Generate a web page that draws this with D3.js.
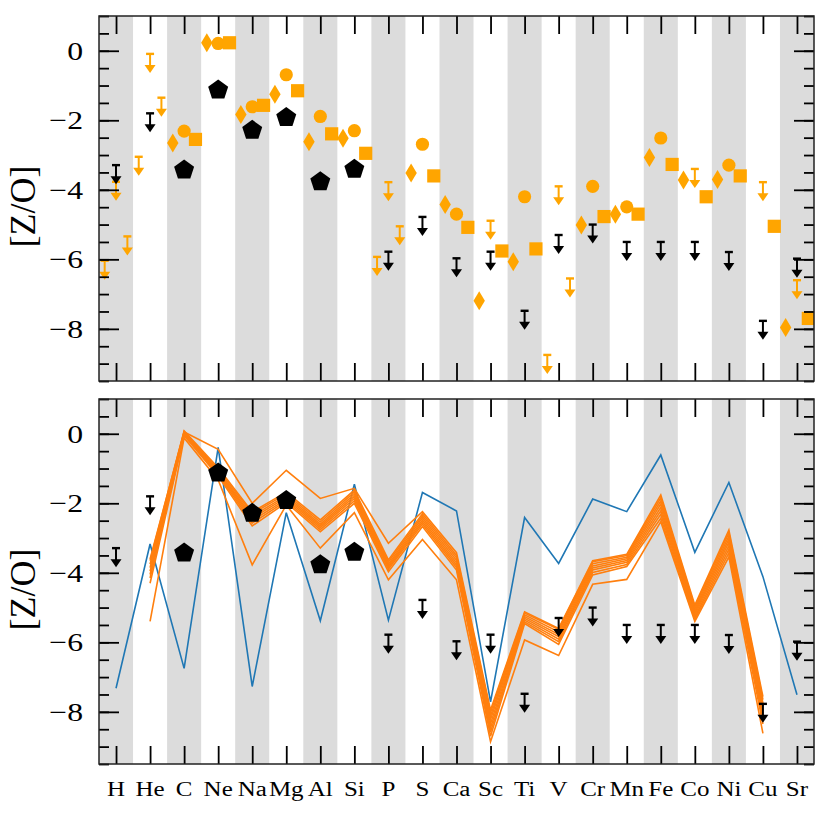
<!DOCTYPE html>
<html>
<head>
<meta charset="utf-8">
<script src="https://cdnjs.cloudflare.com/ajax/libs/d3/7.8.5/d3.min.js"></script>
<style>
  body { margin: 0; background: #fff; }
</style>
</head>
<body>
<div id="chart"></div>
<script>
var elements = ["H","He","C","Ne","Na","Mg","Al","Si","P","S","Ca","Sc","Ti","V","Cr","Mn","Fe","Co","Ni","Cu","Sr"];

// orange observations, three sets side by side (diamond left, circle centre, square right)
var diamondVals = [null, null, -2.65, 0.23, -1.83, -1.25, -2.62, -2.52, null, -3.52, -4.42, -7.19, -6.07, null, -5.01, -4.70, -3.07, -3.72, -3.70, null, -7.96];
var diamondLims = [-6.04, -3.05, null, null, null, null, null, null, -5.93, null, null, null, null, -8.75, null, null, null, null, null, null, null];
var circleVals  = [null, null, -2.31, 0.21, -1.61, -0.69, -1.89, -2.30, null, -2.69, -4.70, null, -4.20, null, -3.90, -4.49, -2.51, null, -3.29, null, null];
var circleLims  = [-3.77, -0.09, null, null, null, null, null, null, -3.78, null, null, -4.89, null, -3.90, null, null, null, -3.40, null, -3.78, -6.60];
var squareVals  = [null, null, -2.55, 0.23, -1.57, -1.15, -2.39, -2.95, null, -3.60, -5.08, -5.76, -5.70, null, -4.77, -4.70, -3.27, -4.20, -3.60, -5.05, -7.70];
var squareLims  = [-5.34, -1.35, null, null, null, null, null, null, -5.05, null, null, null, null, -6.55, null, null, null, null, null, null, null];

// black measurements (pentagons) and upper limits
var blackVals = [null, null, -3.43, -1.13, -2.29, -1.92, -3.77, -3.41, null, null, null, null, null, null, null, null, null, null, null, null, null];
var blackLims = [-3.29, -1.80, null, null, null, null, null, null, -5.78, -4.78, -5.97, -5.78, -7.48, -5.30, -5.00, -5.50, -5.50, -5.50, -5.79, -7.77, -5.98];

// model curves for the lower panel
var blueModel = [-7.32, -3.17, -6.75, -0.39, -7.27, -2.27, -5.38, -1.45, -5.36, -1.69, -2.22, -7.71, -2.41, -3.73, -1.88, -2.24, -0.61, -3.41, -1.40, -4.11, -7.51];
var orangeModels = [
  [null, -3.60, 0.05, -0.45, -2.00, -1.05, -1.86, -1.57, -3.15, -2.24, -3.42, -7.95, -5.12, -5.60, -3.65, -3.47, -1.76, -4.93, -2.77, -7.56, null],
  [null, -5.40, -0.12, -1.33, -3.77, -2.05, -3.29, -2.27, -4.20, -3.04, -4.20, -8.86, -5.93, -6.38, -4.33, -4.19, -2.53, -5.40, -3.54, -8.62, null],
  [null, -3.65, 0.08, -0.98, -2.25, -1.68, -2.48, -1.62, -3.63, -2.30, -3.50, -8.02, -5.16, -5.63, -3.68, -3.50, -1.84, -4.98, -2.85, -7.65, null],
  [null, -3.75, 0.06, -1.03, -2.30, -1.73, -2.54, -1.68, -3.69, -2.36, -3.57, -8.12, -5.21, -5.70, -3.74, -3.55, -1.93, -5.04, -2.94, -7.75, null],
  [null, -3.85, 0.04, -1.07, -2.37, -1.78, -2.60, -1.74, -3.75, -2.42, -3.64, -8.22, -5.26, -5.77, -3.80, -3.60, -2.02, -5.10, -3.03, -7.85, null],
  [null, -3.95, 0.02, -1.10, -2.43, -1.83, -2.65, -1.80, -3.80, -2.48, -3.71, -8.34, -5.31, -5.84, -3.86, -3.65, -2.12, -5.16, -3.12, -7.96, null],
  [null, -4.05, 0.00, -1.13, -2.50, -1.88, -2.70, -1.86, -3.85, -2.54, -3.78, -8.46, -5.36, -5.91, -3.92, -3.70, -2.22, -5.22, -3.22, -8.08, null],
  [null, -4.15, -0.02, -1.17, -2.57, -1.93, -2.76, -1.93, -3.90, -2.60, -3.85, -8.58, -5.41, -5.98, -3.99, -3.76, -2.32, -5.28, -3.32, -8.20, null],
  [null, -4.30, -0.05, -1.22, -2.65, -1.98, -2.82, -2.00, -3.97, -2.67, -3.92, -8.70, -5.46, -6.06, -4.06, -3.82, -2.43, -5.34, -3.43, -8.35, null]
];

var yTicks = [0, -2, -4, -6, -8];
var yMinor = d3.range(-9.5, 1.01, 0.5);

var margin = {left: 99, top: 16},
  pWidth = 715,
  pHeight = 365,
  pGap = 18;

var orange = "#ffa500";
var serif = "'Liberation Serif', 'Times New Roman', Times, serif";

var x = d3.scaleLinear().domain([-0.5, 20.5]).range([0, pWidth]);
var y = d3.scaleLinear().domain([-9.5, 1]).range([pHeight, 0]);

var svg = d3.select("#chart").append("svg")
  .attr("width", 830)
  .attr("height", 830)
  .attr("font-family", serif);

// custom marker shapes
var symbolPentagon = {
  draw: function(context, r) {
    for (var k = 0; k < 5; k++) {
      var a = -Math.PI / 2 + k * 2 * Math.PI / 5;
      if (k === 0) context.moveTo(r * Math.cos(a), r * Math.sin(a));
      else context.lineTo(r * Math.cos(a), r * Math.sin(a));
    }
    context.closePath();
  }
};
var symbolThinDiamond = {
  draw: function(context, h) {
    var w = h * 0.6;
    context.moveTo(0, -h);
    context.lineTo(w, 0);
    context.lineTo(0, h);
    context.lineTo(-w, 0);
    context.closePath();
  }
};

function indexed(arr) {
  var out = [];
  arr.forEach(function(v, i) { if (v !== null) out.push({i: i, v: v}); });
  return out;
}

function drawPanel(top, id, showLabels) {
  var g = svg.append("g")
    .attr("transform", "translate(" + margin.left + "," + top + ")");

  g.append("clipPath").attr("id", "clip" + id)
    .append("rect").attr("width", pWidth).attr("height", pHeight);

  // alternating grey bands
  g.append("g").selectAll("rect")
    .data(elements.filter(function(d, i) { return i % 2 === 0; }))
    .enter().append("rect")
    .attr("x", function(d) { return x(elements.indexOf(d) - 0.5); })
    .attr("y", 0)
    .attr("width", x(1) - x(0))
    .attr("height", pHeight)
    .attr("fill", "#dcdcdc");

  var plot = g.append("g").attr("clip-path", "url(#clip" + id + ")");

  // ticks, all pointing inward
  var axes = g.append("g").attr("class", "axes");
  axes.append("g").call(d3.axisBottom(x).tickValues(d3.range(21)).tickSize(-18).tickFormat(""))
    .attr("transform", "translate(0," + pHeight + ")");
  axes.append("g").call(d3.axisTop(x).tickValues(d3.range(21)).tickSize(-18).tickFormat(""));
  axes.append("g").call(d3.axisLeft(y).tickValues(yMinor).tickSize(-10).tickFormat(""));
  axes.append("g").call(d3.axisLeft(y).tickValues(yTicks).tickSize(-20).tickFormat(""));
  axes.append("g").call(d3.axisRight(y).tickValues(yMinor).tickSize(-10).tickFormat(""))
    .attr("transform", "translate(" + pWidth + ",0)");
  axes.append("g").call(d3.axisRight(y).tickValues(yTicks).tickSize(-20).tickFormat(""))
    .attr("transform", "translate(" + pWidth + ",0)");
  axes.selectAll(".domain").remove();
  axes.selectAll(".tick line").attr("stroke", "#000").attr("stroke-width", 1.8);

  g.append("rect")
    .attr("width", pWidth).attr("height", pHeight)
    .attr("fill", "none").attr("stroke", "#222").attr("stroke-width", 1.5);

  // y tick labels
  g.append("g").selectAll("text")
    .data(yTicks)
    .enter().append("text")
    .attr("transform", function(d) { return "translate(-16," + y(d) + ")scale(1.22,1)"; })
    .attr("dy", "0.34em")
    .attr("text-anchor", "end")
    .attr("font-family", serif)
    .attr("font-size", 26)
    .text(function(d) { return d < 0 ? "\u2212" + (-d) : d; });

  // y label
  g.append("text")
    .attr("text-anchor", "middle")
    .attr("transform", "translate(" + (35 - margin.left) + "," + (pHeight / 2 + 8) + ")rotate(-90)")
    .attr("font-family", serif)
    .attr("font-size", 36)
    .text("[Z/O]");

  if (showLabels) {
    g.append("g").selectAll("text")
      .data(elements)
      .enter().append("text")
      .attr("transform", function(d, i) { return "translate(" + x(i) + "," + (pHeight + 32) + ")scale(1.25,1)"; })
      .attr("text-anchor", "middle")
      .attr("font-family", serif)
      .attr("font-size", 20)
      .text(function(d) { return d; });
  }
  return plot;
}

function drawLimits(plot, arr, offset, color) {
  var lim = plot.append("g").selectAll("g")
    .data(indexed(arr))
    .enter().append("g")
    .attr("transform", function(d) { return "translate(" + x(d.i + offset) + "," + y(d.v) + ")"; });
  lim.append("line")
    .attr("x1", -4).attr("x2", 4).attr("y1", 0).attr("y2", 0)
    .attr("stroke", color).attr("stroke-width", 2.4);
  lim.append("line")
    .attr("x1", 0).attr("x2", 0).attr("y1", 0).attr("y2", 12)
    .attr("stroke", color).attr("stroke-width", 2);
  lim.append("path")
    .attr("d", "M-5.5,11L5.5,11L0,19Z")
    .attr("fill", color);
}

function drawPentagons(plot) {
  plot.append("g").selectAll("path")
    .data(indexed(blackVals))
    .enter().append("path")
    .attr("transform", function(d) { return "translate(" + x(d.i) + "," + y(d.v) + ")"; })
    .attr("d", d3.symbol().type(symbolPentagon).size(10.5))
    .attr("fill", "#000");
}

// ---- top panel: observations
var topPlot = drawPanel(margin.top, "a", false);

topPlot.append("g").selectAll("path")
  .data(indexed(diamondVals))
  .enter().append("path")
  .attr("transform", function(d) { return "translate(" + x(d.i - 1/3) + "," + y(d.v) + ")"; })
  .attr("d", d3.symbol().type(symbolThinDiamond).size(9.5))
  .attr("fill", orange);

topPlot.append("g").selectAll("circle")
  .data(indexed(circleVals))
  .enter().append("circle")
  .attr("cx", function(d) { return x(d.i); })
  .attr("cy", function(d) { return y(d.v); })
  .attr("r", 6.6)
  .attr("fill", orange);

topPlot.append("g").selectAll("rect")
  .data(indexed(squareVals))
  .enter().append("rect")
  .attr("x", function(d) { return x(d.i + 1/3) - 6.6; })
  .attr("y", function(d) { return y(d.v) - 6.6; })
  .attr("width", 13.2)
  .attr("height", 13.2)
  .attr("fill", orange);

drawLimits(topPlot, diamondLims, -1/3, orange);
drawLimits(topPlot, circleLims, 0, orange);
drawLimits(topPlot, squareLims, 1/3, orange);
drawPentagons(topPlot);
drawLimits(topPlot, blackLims, 0, "#000");

// ---- bottom panel: models
var botPlot = drawPanel(margin.top + pHeight + pGap, "b", true);

var line = d3.line()
  .defined(function(d) { return d !== null; })
  .x(function(d, i) { return x(i); })
  .y(function(d) { return y(d); });

botPlot.append("path")
  .datum(blueModel)
  .attr("d", line)
  .attr("fill", "none")
  .attr("stroke", "#1f77b4")
  .attr("stroke-width", 1.6);

botPlot.append("g").selectAll("path")
  .data(orangeModels)
  .enter().append("path")
  .attr("d", line)
  .attr("fill", "none")
  .attr("stroke", "#ff7f0e")
  .attr("stroke-width", 1.6);

drawPentagons(botPlot);
drawLimits(botPlot, blackLims, 0, "#000");
</script>
</body>
</html>
